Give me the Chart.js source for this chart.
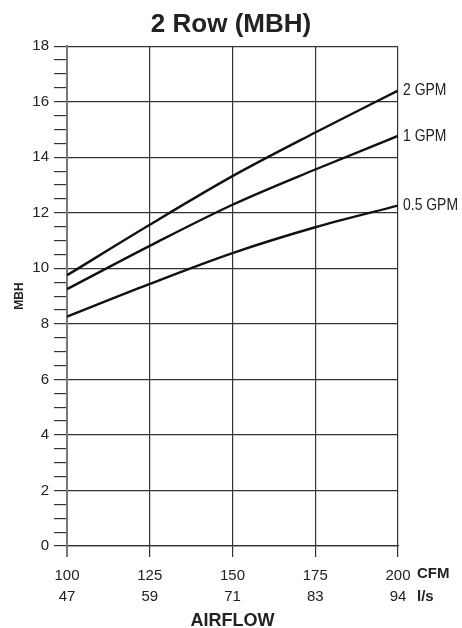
<!DOCTYPE html>
<html>
<head>
<meta charset="utf-8">
<script src="https://cdn.jsdelivr.net/npm/chart.js@4.4.1/dist/chart.umd.min.js"></script>
<style>
  html, body { margin: 0; padding: 0; background: #fff; }
  #wrap { width: 462px; height: 628px; }
</style>
</head>
<body>
<div id="wrap"><canvas id="mbhChart" width="462" height="628"></canvas></div>
<script>
(() => {
  'use strict'

  // Data
  const cfm = [100, 125, 150, 175, 200]
  const ls = [47, 59, 71, 83, 94]
  const gpm2 = [9.75, 11.57, 13.32, 14.89, 16.4]
  const gpm1 = [9.25, 10.81, 12.29, 13.56, 14.77]
  const gpm05 = [8.26, 9.44, 10.55, 11.48, 12.26]
  const seriesNames = ['2 GPM', '1 GPM', '0.5 GPM']
  const yMin = 0
  const yMax = 18
  const yMinor = 0.5
  const yMajor = 2

  const sans = '"Liberation Sans", Arial, Helvetica, sans-serif'
  const ink = '#222'
  const gridDark = '#333'
  const axisGray = '#777'

  const toPoints = (vals) => vals.map((v, i) => ({ x: cfm[i], y: v }))

  // right-hand labels for curves + CFM / l/s units
  const labelsPlugin = {
    id: 'sideLabels',
    afterDraw(chart) {
      const c = chart.ctx
      c.save()
      c.fillStyle = ink
      c.textBaseline = 'middle'
      c.textAlign = 'left'
      c.font = '17px ' + sans
      chart.data.datasets.forEach((ds, i) => {
        const meta = chart.getDatasetMeta(i)
        const pt = meta.data[meta.data.length - 1]
        c.save()
        c.translate(pt.x + 5, pt.y)
        c.scale(0.82, 1) // narrow face like the print
        c.fillText(ds.label, 0, 0)
        c.restore()
      })
      const xs = chart.scales.x
      const ux = xs.getPixelForValue(cfm[cfm.length - 1]) + 19
      c.font = 'bold 15px ' + sans
      c.fillText('CFM', ux, xs.top + 28)
      c.fillText('l/s', ux, xs.top + 51)
      c.restore()
    }
  }

  const ctx = document.getElementById('mbhChart')
  // eslint-disable-next-line no-unused-vars
  const mbhChart = new Chart(ctx, {
    type: 'line',
    data: {
      datasets: [gpm2, gpm1, gpm05].map((vals, i) => ({
        label: seriesNames[i],
        data: toPoints(vals),
        borderColor: '#111',
        borderWidth: 2.4,
        pointRadius: 0,
        cubicInterpolationMode: 'monotone',
        fill: false
      }))
    },
    options: {
      responsive: false,
      animation: false,
      layout: {
        padding: 0
      },
      plugins: {
        legend: { display: false },
        tooltip: { enabled: false },
        title: {
          display: true,
          text: '2 Row (MBH)',
          color: ink,
          font: { family: sans, size: 26, weight: 'bold', lineHeight: 1.2 },
          padding: { top: 9, bottom: 6 }
        }
      },
      scales: {
        x: {
          type: 'linear',
          min: cfm[0],
          max: cfm[cfm.length - 1],
          afterBuildTicks: (scale) => {
            scale.ticks = cfm.map(v => ({ value: v }))
          },
          afterFit: (scale) => {
            scale.height = 82
          },
          ticks: {
            autoSkip: false,
            maxRotation: 0,
            padding: 8,
            color: ink,
            font: { family: sans, size: 15, lineHeight: 1.4 },
            callback: (v, i) => [String(v), String(ls[i])]
          },
          grid: {
            color: c => c.tick && c.tick.value === cfm[0] ? axisGray : gridDark,
            lineWidth: c => c.tick && c.tick.value === cfm[0] ? 2 : 1.2,
            tickColor: c => c.tick && c.tick.value === cfm[0] ? axisGray : gridDark,
            tickWidth: c => c.tick && c.tick.value === cfm[0] ? 2 : 1.2,
            tickLength: 11
          },
          border: { display: true, color: gridDark, width: 1.2 },
          title: {
            display: true,
            text: 'AIRFLOW',
            color: ink,
            font: { family: sans, size: 18, weight: 'bold', lineHeight: 0.8 },
            padding: 0
          }
        },
        y: {
          min: yMin,
          max: yMax,
          afterFit: (scale) => {
            scale.width = 67
          },
          ticks: {
            stepSize: yMinor,
            maxTicksLimit: 100,
            autoSkip: false,
            padding: 5,
            color: ink,
            font: { family: sans, size: 15 },
            callback: v => (v % yMajor === 0 ? String(v) : '')
          },
          grid: {
            color: c => c.tick && c.tick.value % yMajor === 0 ? gridDark : 'rgba(0,0,0,0)',
            lineWidth: 1.2,
            tickColor: gridDark,
            tickWidth: 1.2,
            tickLength: 13
          },
          border: { display: true, color: axisGray, width: 2 },
          title: {
            display: true,
            text: 'MBH',
            color: ink,
            font: { family: sans, size: 12, weight: 'bold', lineHeight: 1.2 },
            padding: { top: 12, bottom: 0 }
          }
        },
        // empty right-hand box that keeps room for the curve labels
        spacer: {
          position: 'right',
          display: true,
          afterFit: (scale) => {
            scale.width = 64
          },
          ticks: { display: false },
          grid: { display: false },
          border: { display: false }
        }
      }
    },
    plugins: [labelsPlugin]
  })
})()
</script>
</body>
</html>
